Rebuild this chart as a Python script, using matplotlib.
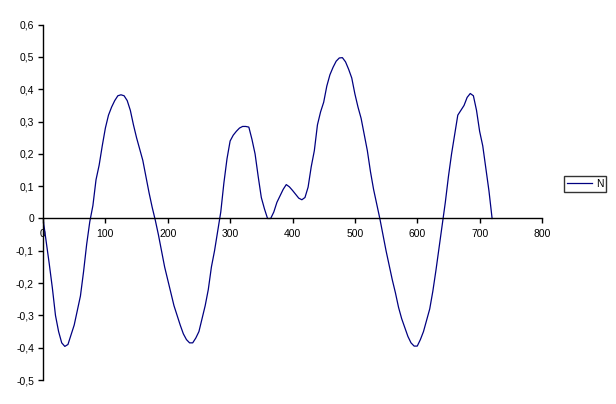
import matplotlib
matplotlib.use("Agg")
import matplotlib.pyplot as plt
from matplotlib.ticker import FuncFormatter, MultipleLocator

plt.rcParams['font.family'] = ['Liberation Sans', 'DejaVu Sans']

x_vals = list(range(0, 725, 5))
n_vals = [0.0, -0.07, -0.14, -0.215, -0.30, -0.35, -0.385, -0.396, -0.39, -0.36,
          -0.33, -0.285, -0.24, -0.165, -0.08, -0.01, 0.04, 0.12, 0.165, 0.225,
          0.28, 0.32, 0.345, 0.365, 0.38, 0.383, 0.38, 0.365, 0.335, 0.29,
          0.25, 0.215, 0.18, 0.13, 0.08, 0.035, -0.005, -0.05, -0.10, -0.15,
          -0.19, -0.23, -0.27, -0.30, -0.33, -0.357, -0.375, -0.385, -0.385, -0.37,
          -0.35, -0.31, -0.27, -0.22, -0.15, -0.10, -0.04, 0.02, 0.11, 0.185,
          0.24, 0.258, 0.27, 0.28, 0.285, 0.285, 0.283, 0.245, 0.20, 0.13,
          0.065, 0.03, 0.0, 0.0, 0.02, 0.05, 0.07, 0.09, 0.105, 0.098,
          0.087, 0.075, 0.063, 0.058, 0.065, 0.097, 0.16, 0.21, 0.29, 0.33,
          0.36, 0.41, 0.445, 0.468, 0.487, 0.497, 0.498, 0.485, 0.462, 0.435,
          0.386, 0.345, 0.31, 0.26, 0.21, 0.145, 0.09, 0.045, 0.0, -0.05,
          -0.10, -0.145, -0.19, -0.23, -0.275, -0.31, -0.337, -0.365, -0.385, -0.395,
          -0.395, -0.375, -0.35, -0.315, -0.28, -0.225, -0.16, -0.09, -0.02, 0.05,
          0.13, 0.20, 0.26, 0.32, 0.335, 0.35, 0.375, 0.387, 0.38, 0.335,
          0.27, 0.225, 0.155, 0.085, 0.0]
series_name = "N"

W, H = 616, 404
fig = plt.figure(figsize=(W / 100, H / 100), dpi=100)
ax = fig.add_axes([43 / W, 1 - 380 / H, (542 - 43) / W, (380 - 24.7) / H])

ax.plot(x_vals, n_vals, color='#000080', linewidth=0.9, label=series_name)

ax.set_xlim(0, 800)
ax.set_ylim(-0.5, 0.6)
ax.xaxis.set_major_locator(MultipleLocator(100))
ax.yaxis.set_major_locator(MultipleLocator(0.1))

def yfmt(v, pos):
    if abs(v) < 1e-9:
        return "0"
    return f"{v:.1f}".replace('.', ',')

ax.yaxis.set_major_formatter(FuncFormatter(yfmt))
ax.xaxis.set_major_formatter(FuncFormatter(lambda v, p: f"{int(round(v))}"))

for s in ['top', 'right']:
    ax.spines[s].set_visible(False)
ax.spines['bottom'].set_position(('data', 0))
ax.spines['bottom'].set_linewidth(1.0)
ax.spines['left'].set_linewidth(1.0)

ax.tick_params(axis='both', direction='out', length=3.5, width=1.0,
               labelsize=7.5, colors='black')
ax.tick_params(axis='y', pad=3)
ax.tick_params(axis='x', pad=4)

leg = fig.legend(loc='center left', bbox_to_anchor=(564 / W, 1 - 184 / H),
                 frameon=True, fancybox=False, shadow=False, fontsize=7.5,
                 handlelength=2.4, handletextpad=0.4, borderpad=0.25,
                 borderaxespad=0)
leg.get_frame().set_edgecolor('black')
leg.get_frame().set_linewidth(1.0)

fig.savefig("out.png", dpi=100)
